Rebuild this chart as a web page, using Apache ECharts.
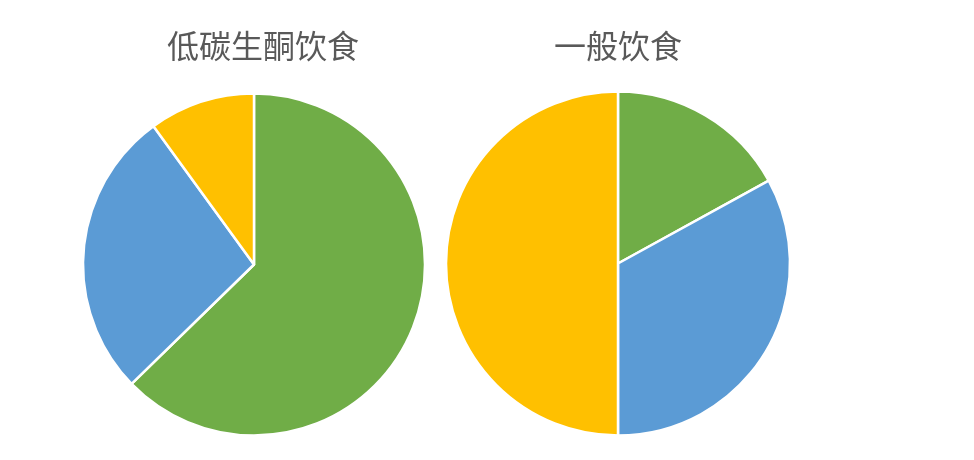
<!DOCTYPE html>
<html>
<head>
<meta charset="utf-8">
<script src="https://cdn.jsdelivr.net/npm/echarts@6/dist/echarts.min.js"></script>
<style>html,body{margin:0;padding:0;background:#fff}#c{width:974px;height:460px}</style>
</head>
<body>
<div id="c"></div>
<script>
const titles = ['低碳生酮饮食', '一般饮食'];
const categories = ['A', 'B', 'C'];
const ketoValues = [62.7, 27.3, 10];
const normalValues = [17, 33, 50];
const colors = ['#70AD47', '#5B9BD5', '#FFC000'];

const chart = echarts.init(document.getElementById('c'));
function mk(vals) { return categories.map((c, i) => ({ name: c, value: vals[i] })); }
const titleStyle = { fontFamily: 'Noto Sans CJK SC', fontSize: 32, fontWeight: 'normal', color: '#595959' };
chart.setOption({
  animation: false,
  color: colors,
  title: [
    { text: titles[0], left: 258, top: 25, textAlign: 'center', textStyle: titleStyle },
    { text: titles[1], left: 613, top: 25, textAlign: 'center', textStyle: titleStyle }
  ],
  series: [
    { type: 'pie', center: [254, 264.5], radius: 171, startAngle: 90, clockwise: true,
      label: { show: false }, labelLine: { show: false },
      itemStyle: { borderColor: '#fff', borderWidth: 2.5 }, data: mk(ketoValues) },
    { type: 'pie', center: [618, 263.5], radius: 172, startAngle: 90, clockwise: true,
      label: { show: false }, labelLine: { show: false },
      itemStyle: { borderColor: '#fff', borderWidth: 2.5 }, data: mk(normalValues) }
  ]
});
</script>
</body>
</html>
